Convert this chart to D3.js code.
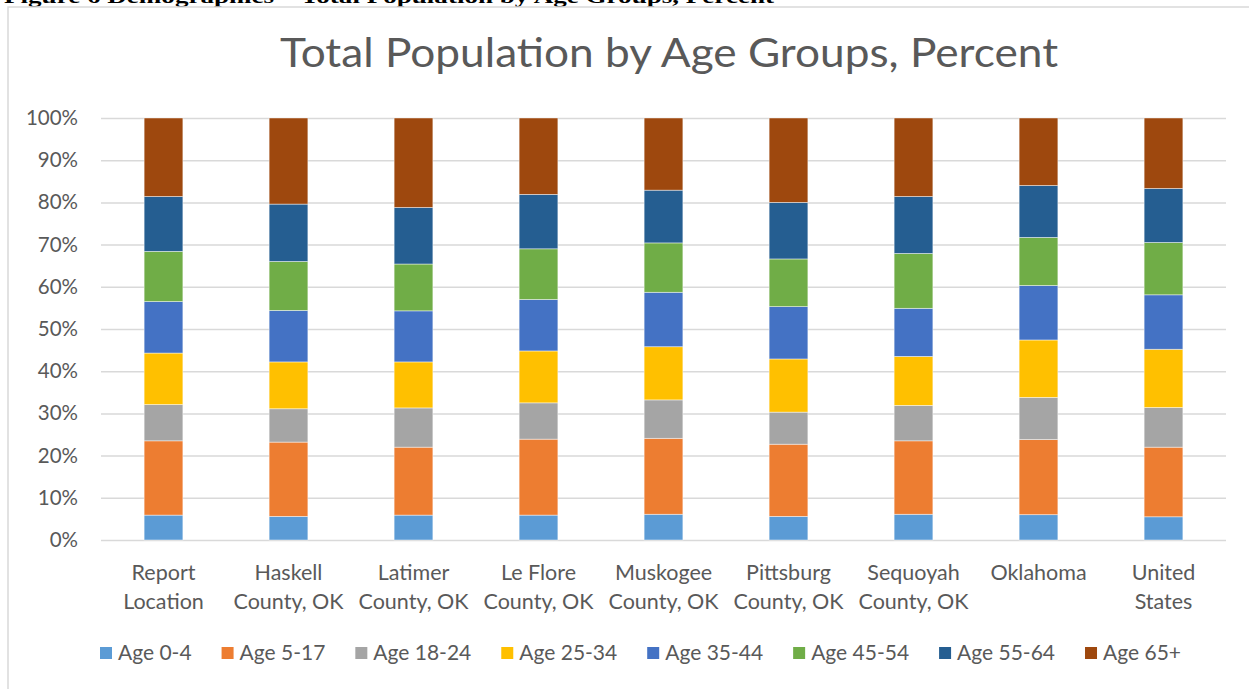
<!DOCTYPE html>
<html>
<head>
<meta charset="utf-8">
<script src="https://cdn.jsdelivr.net/npm/d3@7"></script>
<style>
  html, body { margin: 0; padding: 0; background: #fff; overflow: hidden; }
  svg { display: block; }
</style>
</head>
<body>
<svg id="chart" width="1249" height="689"></svg>
<script>
// ---------------- data ----------------
const categories = [
  ["Report", "Location"],
  ["Haskell", "County, OK"],
  ["Latimer", "County, OK"],
  ["Le Flore", "County, OK"],
  ["Muskogee", "County, OK"],
  ["Pittsburg", "County, OK"],
  ["Sequoyah", "County, OK"],
  ["Oklahoma"],
  ["United", "States"]
];
const seriesNames = ["Age 0-4", "Age 5-17", "Age 18-24", "Age 25-34", "Age 35-44", "Age 45-54", "Age 55-64", "Age 65+"];
const age0_4   = [5.9, 5.6, 5.9, 5.9, 6.1, 5.6, 6.1, 6.0, 5.5];
const age5_17  = [17.6, 17.6, 16.1, 18.0, 18.0, 17.1, 17.4, 17.8, 16.5];
const age18_24 = [8.6, 7.9, 9.3, 8.6, 9.1, 7.6, 8.4, 10.0, 9.4];
const age25_34 = [12.2, 11.1, 10.9, 12.3, 12.6, 12.6, 11.6, 13.6, 13.8];
const age35_44 = [12.2, 12.2, 12.1, 12.2, 12.9, 12.4, 11.4, 12.9, 12.9];
const age45_54 = [11.9, 11.6, 11.1, 12.0, 11.7, 11.3, 13.0, 11.4, 12.4];
const age55_64 = [13.0, 13.6, 13.4, 12.9, 12.5, 13.4, 13.5, 12.3, 12.8];
const age65p   = [18.6, 20.4, 21.2, 18.1, 17.1, 20.0, 18.6, 16.0, 16.7];
const seriesValues = [age0_4, age5_17, age18_24, age25_34, age35_44, age45_54, age55_64, age65p];
const yTicks = [0, 10, 20, 30, 40, 50, 60, 70, 80, 90, 100];
const colors = ["#5B9BD5", "#ED7D31", "#A5A5A5", "#FFC000", "#4472C4", "#70AD47", "#255E91", "#9E480E"];
const chartTitle = "Total Population by Age Groups, Percent";
const figureCaption = "Figure 6 Demographics \u2013 Total Population by Age Groups, Percent";

// ---------------- layout ----------------
const svg = d3.select("#chart");
const plotLeft = 101, plotRight = 1226, plotTop = 118, plotBottom = 540;
const textColor = "#595959";
const gridColor = "#D9D9D9";
const font = "Lato, 'Open Sans', sans-serif";

// figure caption clipped at the top
svg.append("text")
  .attr("x", 4).attr("y", 3)
  .attr("font-family", "'Liberation Serif', 'Times New Roman', serif")
  .attr("font-weight", "bold")
  .attr("font-size", 19)
  .attr("textLength", 770)
  .attr("lengthAdjust", "spacingAndGlyphs")
  .attr("fill", "#000")
  .text(figureCaption);

// chart frame
svg.append("rect")
  .attr("x", 8).attr("y", 7)
  .attr("width", 1400).attr("height", 900)
  .attr("fill", "none")
  .attr("stroke", gridColor)
  .attr("stroke-width", 1.5);

// title
svg.append("text")
  .attr("x", 669).attr("y", 67)
  .attr("text-anchor", "middle")
  .attr("font-family", font)
  .attr("font-size", 40)
  .attr("fill", textColor)
  .attr("textLength", 778)
  .attr("lengthAdjust", "spacingAndGlyphs")
  .text(chartTitle);

// scales
const x = d3.scaleBand()
  .domain(d3.range(categories.length))
  .range([plotLeft, plotRight])
  .paddingInner(0.69)
  .paddingOuter(0.345);
const y = d3.scaleLinear().domain([0, 100]).range([plotBottom, plotTop]);

// gridlines + y axis
const yAxis = d3.axisLeft(y)
  .tickValues(yTicks)
  .tickSize(-(plotRight - plotLeft))
  .tickPadding(23)
  .tickFormat(d => d + "%");
const gy = svg.append("g")
  .attr("transform", `translate(${plotLeft},0)`)
  .call(yAxis);
gy.select(".domain").remove();
gy.selectAll(".tick line").attr("stroke", gridColor).attr("stroke-width", 1.5);
gy.selectAll(".tick text")
  .attr("font-family", font)
  .attr("font-size", 20.5)
  .attr("fill", textColor);

// stacked bars
const table = categories.map((c, i) => {
  const row = { idx: i };
  seriesNames.forEach((s, k) => row[s] = seriesValues[k][i]);
  return row;
});
const stack = d3.stack().keys(seriesNames);
const layers = stack(table);

svg.append("g").selectAll("g")
  .data(layers)
  .join("g")
  .attr("fill", (d, k) => colors[k])
  .selectAll("rect")
  .data(d => d)
  .join("rect")
  .attr("x", d => x(d.data.idx))
  .attr("width", x.bandwidth())
  .attr("y", d => y(d[1]))
  .attr("height", d => y(d[0]) - y(d[1]))
  .attr("stroke", "#ffffff")
  .attr("stroke-opacity", 0.6)
  .attr("stroke-width", 0.75);

// x axis (category labels)
const xAxis = d3.axisBottom(x).tickSize(0).tickFormat(() => "");
const gx = svg.append("g")
  .attr("transform", `translate(0,${plotBottom})`)
  .call(xAxis);
gx.select(".domain").remove();
gx.selectAll(".tick text").each(function(i) {
  const t = d3.select(this)
    .attr("font-family", font)
    .attr("font-size", 21.5)
    .attr("fill", textColor)
    .attr("y", 0).attr("dy", 0);
  categories[i].forEach((line, j) => {
    t.append("tspan").attr("x", 0).attr("y", 40 + j * 29).text(line);
  });
});

// legend
const legendY = 653;
const legend = svg.append("g");
const items = legend.selectAll("g").data(seriesNames).join("g");
items.append("rect")
  .attr("width", 12).attr("height", 12)
  .attr("y", legendY - 6)
  .attr("fill", (d, k) => colors[k]);
items.append("text")
  .attr("x", 18)
  .attr("y", legendY + 7)
  .attr("font-family", font)
  .attr("font-size", 21)
  .attr("fill", textColor)
  .text(d => d);
const legendLeft = 100, legendRight = 1181;
let sumW = 0;
items.each(function() { sumW += 18 + d3.select(this).select("text").node().getComputedTextLength(); });
const gap = (legendRight - legendLeft - sumW) / (seriesNames.length - 1);
let cx = legendLeft;
items.each(function() {
  const g = d3.select(this);
  g.attr("transform", `translate(${cx},0)`);
  cx += 18 + g.select("text").node().getComputedTextLength() + gap;
});
</script>
</body>
</html>
